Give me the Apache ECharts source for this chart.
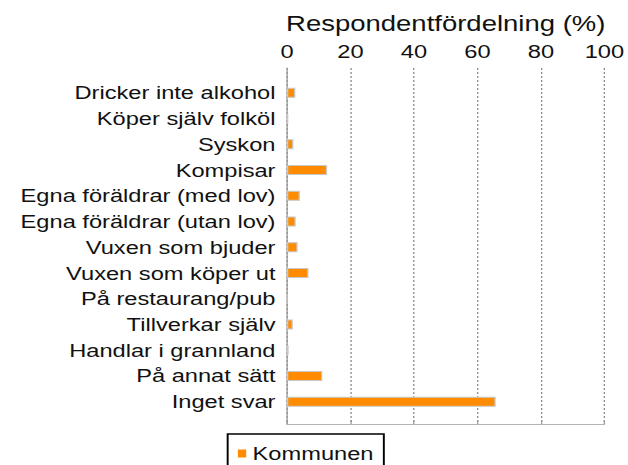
<!DOCTYPE html>
<html>
<head>
<meta charset="utf-8">
<script src="https://cdn.jsdelivr.net/npm/echarts@6/dist/echarts.min.js"></script>
<style>
  html, body { margin: 0; padding: 0; background: #fff; overflow: hidden; }
  /* the original is stretched sideways, so draw narrow and scale in x */
  #main {
    width: 491px;
    height: 465px;
    transform: scaleX(1.279);
    transform-origin: 0 0;
  }
</style>
</head>
<body>
<div id="main"></div>
<script>
var categories = [
  "Dricker inte alkohol",
  "Köper själv folköl",
  "Syskon",
  "Kompisar",
  "Egna föräldrar (med lov)",
  "Egna föräldrar (utan lov)",
  "Vuxen som bjuder",
  "Vuxen som köper ut",
  "På restaurang/pub",
  "Tillverkar själv",
  "Handlar i grannland",
  "På annat sätt",
  "Inget svar"
];
var kommunen = [2.6, 0.4, 2, 12.5, 4, 2.7, 3.3, 6.7, 0, 1.8, 0.5, 11, 65];
var xTicks = [0, 20, 40, 60, 80, 100];

var font = "'Liberation Sans', Arial, sans-serif";
var myChart = echarts.init(document.getElementById("main"), null, { renderer: "svg" });

myChart.setOption({
  animation: false,
  legend: {
    data: ["Kommunen"],
    left: 178,
    top: 434,
    padding: [10, 8, 10, 8],
    borderColor: "#000",
    borderWidth: 1.5,
    icon: "rect",
    itemWidth: 6.5,
    itemHeight: 8,
    itemStyle: { borderWidth: 0 },
    textStyle: { fontFamily: font, fontSize: 18.5, color: "#111" }
  },
  grid: [
    // frame: axes and dotted lines
    { left: 224.4, right: 15.6, top: 68, bottom: 41 },
    // bars
    { left: 224.4, right: 15.6, top: 80, bottom: 50.5 }
  ],
  xAxis: [
    {
      gridIndex: 0,
      type: "value",
      position: "top",
      min: xTicks[0],
      max: xTicks[xTicks.length - 1],
      interval: 20,
      name: "Respondentfördelning (%)",
      nameLocation: "middle",
      nameGap: 33,
      nameTextStyle: { fontFamily: font, fontSize: 21.5, color: "#111" },
      axisLine: { show: true, lineStyle: { color: "#999", width: 1 } },
      axisTick: { show: true, length: 4, lineStyle: { color: "#999" } },
      axisLabel: { margin: 7, fontFamily: font, fontSize: 18.5, color: "#111" },
      splitLine: { show: true, lineStyle: { color: "#888", type: [2, 2], width: 1 } }
    },
    {
      gridIndex: 0,
      type: "value",
      position: "bottom",
      min: 0,
      max: 100,
      axisLine: { show: true, lineStyle: { color: "#b4b4b4", width: 1 } },
      axisTick: { show: false },
      axisLabel: { show: false },
      splitLine: { show: false }
    },
    {
      gridIndex: 1,
      type: "value",
      min: 0,
      max: 100,
      show: false
    }
  ],
  yAxis: [
    {
      gridIndex: 0,
      type: "value",
      axisLine: { show: true, lineStyle: { color: "#999", width: 1 } },
      axisTick: { show: false },
      axisLabel: { show: false },
      splitLine: { show: false }
    },
    {
      gridIndex: 1,
      type: "category",
      inverse: true,
      data: categories,
      axisLine: { show: false },
      axisTick: { show: false },
      axisLabel: { margin: 9, fontFamily: font, fontSize: 18.5, color: "#111" }
    }
  ],
  series: [
    {
      name: "Kommunen",
      type: "bar",
      xAxisIndex: 2,
      yAxisIndex: 1,
      barWidth: 10,
      itemStyle: { color: "#ff8c00", borderColor: "#c8c8c8", borderWidth: 1 },
      data: kommunen
    }
  ]
});
</script>
</body>
</html>
